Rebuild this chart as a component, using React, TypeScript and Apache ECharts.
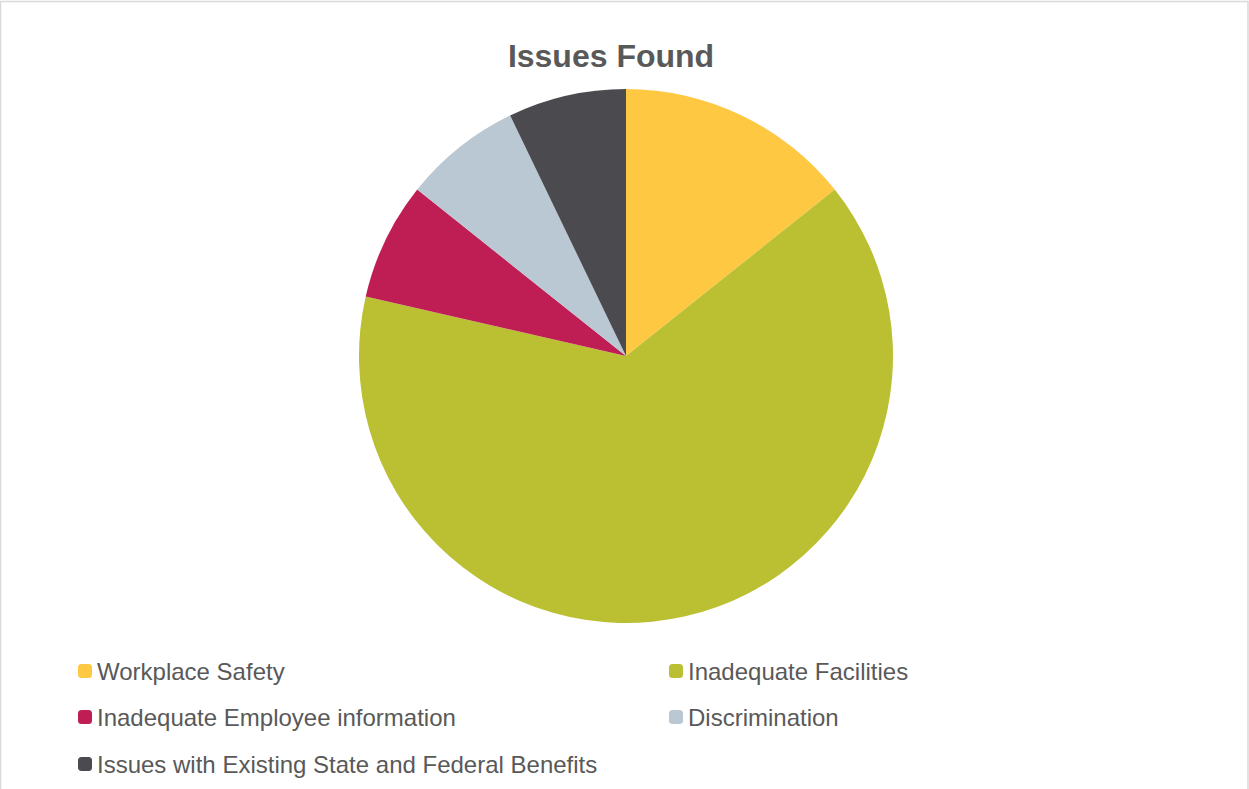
import React, { useEffect, useRef } from "react";
import * as echarts from "echarts";

const categories = [
  "Workplace Safety",
  "Inadequate Facilities",
  "Inadequate Employee information",
  "Discrimination",
  "Issues with Existing State and Federal Benefits",
];
const values = [2, 9, 1, 1, 1];
const colors = ["#FFC843", "#BBC033", "#BE1E54", "#BAC8D3", "#4B4B4F"];
const legendPos = [
  { left: 78, top: 659 },
  { left: 669, top: 659 },
  { left: 78, top: 705 },
  { left: 669, top: 705 },
  { left: 78, top: 752 },
];
const FONT = "'Liberation Sans', Arial, sans-serif";

export default function App() {
  const ref = useRef<HTMLDivElement>(null);
  useEffect(() => {
    if (!ref.current) return;
    const chart = echarts.init(ref.current, undefined, { renderer: "svg" });
    chart.setOption({
      animation: false,
      color: colors,
      graphic: [
        {
          type: "rect",
          shape: { x: 0.5, y: 1.5, width: 1247.5, height: 820 },
          style: { fill: "none", stroke: "#D9D9D9", lineWidth: 1.5 },
          silent: true,
        },
        {
          type: "text",
          x: 611,
          y: 56,
          style: {
            text: "Issues Found",
            fontSize: 32,
            fontWeight: "bold",
            fontFamily: FONT,
            fill: "#595959",
            align: "center",
            verticalAlign: "middle",
          },
        },
      ],
      legend: categories.map((c, i) => ({
        data: [c],
        left: legendPos[i].left,
        top: legendPos[i].top,
        orient: "horizontal",
        itemWidth: 14,
        itemHeight: 14,
        icon: "roundRect",
        itemStyle: { borderRadius: 2 },
        padding: 0,
        selectedMode: false,
        textStyle: {
          fontSize: 24,
          color: "#595959",
          fontFamily: FONT,
          padding: 0,
          lineHeight: 24,
          height: 24,
          verticalAlign: "middle",
        },
      })),
      series: [
        {
          type: "pie",
          center: [626, 356],
          radius: 267,
          startAngle: 90,
          clockwise: true,
          label: { show: false },
          labelLine: { show: false },
          emphasis: { disabled: true },
          itemStyle: { borderWidth: 0 },
          data: categories.map((c, i) => ({ name: c, value: values[i] })),
        },
      ],
    });
    return () => chart.dispose();
  }, []);
  return (
    <div
      ref={ref}
      style={{ position: "fixed", left: 0, top: 0, width: 1249, height: 789, background: "#fff" }}
    />
  );
}
